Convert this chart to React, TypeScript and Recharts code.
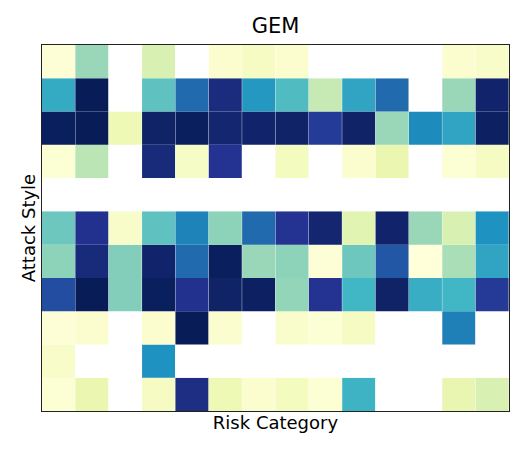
import { Bar, BarChart, Cell, XAxis, YAxis } from 'recharts';

// 14 risk categories (columns) x 11 attack styles (rows, top to bottom); null = no data
const riskCategories = ['C1', 'C2', 'C3', 'C4', 'C5', 'C6', 'C7', 'C8', 'C9', 'C10', 'C11', 'C12', 'C13', 'C14'];
const attackStyles = ['S1', 'S2', 'S3', 'S4', 'S5', 'S6', 'S7', 'S8', 'S9', 'S10', 'S11'];

const scores: (number | null)[][] = [
  [1, 33, null, 19, null, 3, 7, 3, null, null, null, null, 3, 5],
  [54, 100, null, 44, 72, 92, 60, 47, 25, 56, 72, null, 33, 96],
  [99, 100, 11, 97, 99, 95, 96, 97, 85, 97, 33, 64, 56, 98],
  [2, 27, null, 93, 6, 88, null, 8, null, 3, 13, null, 2, 7],
  [null, null, null, null, null, null, null, null, null, null, null, null, null, null],
  [41, 89, 5, 44, 66, 35, 72, 88, 95, 16, 96, 33, 19, 62],
  [35, 93, 37, 96, 72, 99, 33, 35, 1, 41, 77, 0, 30, 56],
  [80, 100, 37, 99, 89, 97, 98, 34, 88, 50, 97, 53, 50, 86],
  [1, 3, null, 3, 100, 3, null, 4, 2, 7, null, null, 67, null],
  [5, null, null, 62, null, null, null, null, null, null, null, null, null, null],
  [2, 13, null, 7, 91, 11, 3, 8, 2, 51, null, null, 14, 19],
];

const ylGnBu = ['#ffffd9', '#edf8b1', '#c7e9b4', '#7fcdbb', '#41b6c4', '#1d91c0', '#225ea8', '#253494', '#081d58'];

function hexToRgb(h: string) {
  return [1, 3, 5].map((i) => parseInt(h.slice(i, i + 2), 16));
}

function colorFor(v: number | null) {
  if (v === null) return '#ffffff';
  const t = Math.max(0, Math.min(1, v / 100)) * (ylGnBu.length - 1);
  const i = Math.min(Math.floor(t), ylGnBu.length - 2);
  const f = t - i;
  const a = hexToRgb(ylGnBu[i]);
  const b = hexToRgb(ylGnBu[i + 1]);
  const c = a.map((x, k) => Math.round(x + (b[k] - x) * f));
  return `rgb(${c[0]},${c[1]},${c[2]})`;
}

const chartData = riskCategories.map((cat) => {
  const row: Record<string, string | number> = { cat };
  attackStyles.forEach((s) => (row[s] = 1));
  return row;
});

const W = 532;
const H = 454;
const plot = { left: 42, top: 45, right: 509, bottom: 411 };

export default function App() {
  const font = '"DejaVu Sans", sans-serif';
  return (
    <div style={{ position: 'relative', width: W, height: H, fontFamily: font }}>
      <style>{'body{margin:0}'}</style>
      <BarChart
        width={W}
        height={H}
        data={chartData}
        barCategoryGap={0}
        barGap={0}
        margin={{ top: plot.top, left: plot.left, right: W - plot.right, bottom: H - plot.bottom }}
      >
        <XAxis dataKey="cat" hide />
        <YAxis type="number" domain={[0, attackStyles.length]} hide />
        {[...attackStyles].reverse().map((s) => {
          const r = attackStyles.indexOf(s);
          return (
            <Bar key={s} dataKey={s} stackId="grid" isAnimationActive={false}>
              {riskCategories.map((c, ci) => (
                <Cell key={c} fill={colorFor(scores[r][ci])} />
              ))}
            </Bar>
          );
        })}
      </BarChart>
      <div
        style={{
          position: 'absolute',
          left: plot.left - 1,
          top: plot.top - 1,
          width: plot.right - plot.left,
          height: plot.bottom - plot.top,
          border: '1px solid #222',
          pointerEvents: 'none',
        }}
      />
      <div style={{ position: 'absolute', left: plot.left, width: plot.right - plot.left, top: 14, textAlign: 'center', fontSize: 21 }}>
        GEM
      </div>
      <div style={{ position: 'absolute', left: plot.left, width: plot.right - plot.left, top: 412, textAlign: 'center', fontSize: 18 }}>
        Risk Category
      </div>
      <div
        style={{
          position: 'absolute',
          left: 28,
          top: (plot.top + plot.bottom) / 2,
          transform: 'translate(-50%, -50%) rotate(-90deg)',
          fontSize: 18,
          whiteSpace: 'nowrap',
        }}
      >
        Attack Style
      </div>
    </div>
  );
}
